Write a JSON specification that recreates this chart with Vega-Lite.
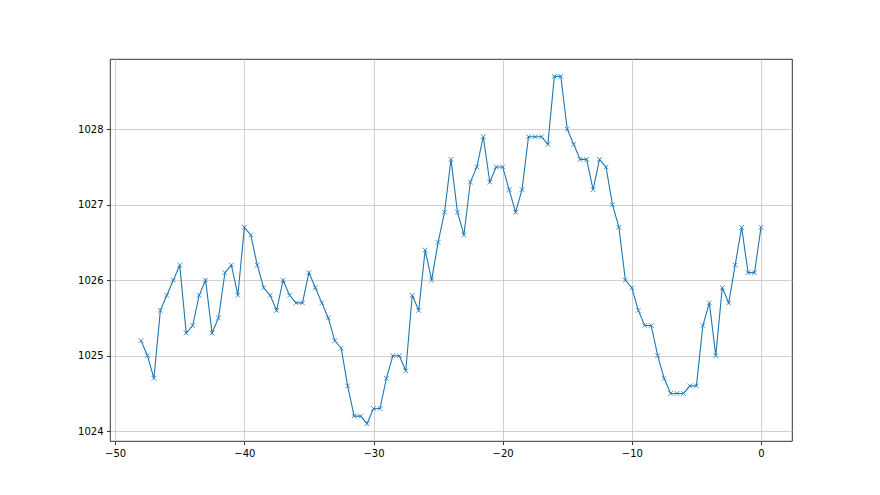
{
  "$schema": "https://vega.github.io/schema/vega-lite/v6.json",
  "autosize": {"type": "none"},
  "width": 682,
  "height": 382,
  "padding": {"left": 110, "top": 59, "right": 88, "bottom": 54},
  "background": "white",
  "config": {
    "view": {"stroke": "black", "strokeWidth": 0.8},
    "axis": {
      "domain": false,
      "grid": true,
      "gridColor": "#c4c4c4",
      "gridWidth": 0.8,
      "tickColor": "black",
      "tickWidth": 0.8,
      "tickSize": 3.5,
      "labelFont": "DejaVu Sans",
      "labelFontSize": 10,
      "labelColor": "black",
      "labelPadding": 3.5,
      "title": null
    }
  },
  "data": {"values": [
    {"t": -48, "p": 1025.2}, {"t": -47.5, "p": 1025.0}, {"t": -47, "p": 1024.7}, {"t": -46.5, "p": 1025.6},
    {"t": -46, "p": 1025.8}, {"t": -45.5, "p": 1026.0}, {"t": -45, "p": 1026.2}, {"t": -44.5, "p": 1025.3},
    {"t": -44, "p": 1025.4}, {"t": -43.5, "p": 1025.8}, {"t": -43, "p": 1026.0}, {"t": -42.5, "p": 1025.3},
    {"t": -42, "p": 1025.5}, {"t": -41.5, "p": 1026.1}, {"t": -41, "p": 1026.2}, {"t": -40.5, "p": 1025.8},
    {"t": -40, "p": 1026.7}, {"t": -39.5, "p": 1026.6}, {"t": -39, "p": 1026.2}, {"t": -38.5, "p": 1025.9},
    {"t": -38, "p": 1025.8}, {"t": -37.5, "p": 1025.6}, {"t": -37, "p": 1026.0}, {"t": -36.5, "p": 1025.8},
    {"t": -36, "p": 1025.7}, {"t": -35.5, "p": 1025.7}, {"t": -35, "p": 1026.1}, {"t": -34.5, "p": 1025.9},
    {"t": -34, "p": 1025.7}, {"t": -33.5, "p": 1025.5}, {"t": -33, "p": 1025.2}, {"t": -32.5, "p": 1025.1},
    {"t": -32, "p": 1024.6}, {"t": -31.5, "p": 1024.2}, {"t": -31, "p": 1024.2}, {"t": -30.5, "p": 1024.1},
    {"t": -30, "p": 1024.3}, {"t": -29.5, "p": 1024.3}, {"t": -29, "p": 1024.7}, {"t": -28.5, "p": 1025.0},
    {"t": -28, "p": 1025.0}, {"t": -27.5, "p": 1024.8}, {"t": -27, "p": 1025.8}, {"t": -26.5, "p": 1025.6},
    {"t": -26, "p": 1026.4}, {"t": -25.5, "p": 1026.0}, {"t": -25, "p": 1026.5}, {"t": -24.5, "p": 1026.9},
    {"t": -24, "p": 1027.6}, {"t": -23.5, "p": 1026.9}, {"t": -23, "p": 1026.6}, {"t": -22.5, "p": 1027.3},
    {"t": -22, "p": 1027.5}, {"t": -21.5, "p": 1027.9}, {"t": -21, "p": 1027.3}, {"t": -20.5, "p": 1027.5},
    {"t": -20, "p": 1027.5}, {"t": -19.5, "p": 1027.2}, {"t": -19, "p": 1026.9}, {"t": -18.5, "p": 1027.2},
    {"t": -18, "p": 1027.9}, {"t": -17.5, "p": 1027.9}, {"t": -17, "p": 1027.9}, {"t": -16.5, "p": 1027.8},
    {"t": -16, "p": 1028.7}, {"t": -15.5, "p": 1028.7}, {"t": -15, "p": 1028.0}, {"t": -14.5, "p": 1027.8},
    {"t": -14, "p": 1027.6}, {"t": -13.5, "p": 1027.6}, {"t": -13, "p": 1027.2}, {"t": -12.5, "p": 1027.6},
    {"t": -12, "p": 1027.5}, {"t": -11.5, "p": 1027.0}, {"t": -11, "p": 1026.7}, {"t": -10.5, "p": 1026.0},
    {"t": -10, "p": 1025.9}, {"t": -9.5, "p": 1025.6}, {"t": -9, "p": 1025.4}, {"t": -8.5, "p": 1025.4},
    {"t": -8, "p": 1025.0}, {"t": -7.5, "p": 1024.7}, {"t": -7, "p": 1024.5}, {"t": -6.5, "p": 1024.5},
    {"t": -6, "p": 1024.5}, {"t": -5.5, "p": 1024.6}, {"t": -5, "p": 1024.6}, {"t": -4.5, "p": 1025.4},
    {"t": -4, "p": 1025.7}, {"t": -3.5, "p": 1025.0}, {"t": -3, "p": 1025.9}, {"t": -2.5, "p": 1025.7},
    {"t": -2, "p": 1026.2}, {"t": -1.5, "p": 1026.7}, {"t": -1, "p": 1026.1}, {"t": -0.5, "p": 1026.1},
    {"t": 0, "p": 1026.7}
  ]},
  "encoding": {
    "x": {"field": "t", "type": "quantitative",
      "scale": {"domain": [-50.4, 2.4], "nice": false, "zero": false},
      "axis": {"values": [-50, -40, -30, -20, -10, 0]}},
    "y": {"field": "p", "type": "quantitative",
      "scale": {"domain": [1023.87, 1028.93], "nice": false, "zero": false},
      "axis": {"values": [1024, 1025, 1026, 1027, 1028], "format": "d"}}
  },
  "layer": [
    {"mark": {"type": "line", "color": "#1f77b4", "strokeWidth": 1.1}},
    {"mark": {"type": "point", "shape": "M-1,-1L1,1M-1,1L1,-1", "filled": false, "color": "#1f77b4", "strokeWidth": 0.8, "size": 22, "opacity": 1}}
  ]
}
